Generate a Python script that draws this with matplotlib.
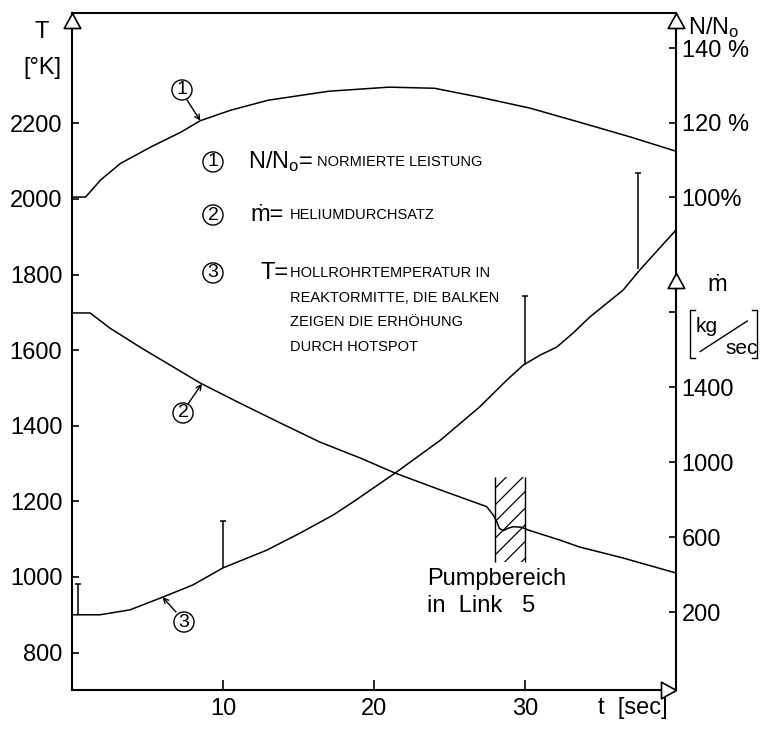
import numpy as np
import matplotlib
matplotlib.use("Agg")
import matplotlib.pyplot as plt

plt.rcParams["font.family"] = ["Liberation Sans", "DejaVu Sans"]
plt.rcParams["hatch.linewidth"] = 0.9

# ---- data -------------------------------------------------------------
# (1) normalised power N/No in %
t_power = [0, 0.9, 1.9, 3.2, 5.2, 7.2, 8.5, 10.5, 13.0, 17.0, 21.0, 24.0,
           27.0, 30.3, 33.6, 37.0, 40.0]
power = [100, 100, 104.6, 109.0, 113.4, 117.4, 120.5, 123.3, 126.0, 128.4,
         129.5, 129.2, 126.8, 123.9, 120.1, 116.1, 112.3]

# (2) helium mass flow in kg/sec
t_flow = [0, 1.2, 2.5, 4.5, 6.5, 8.5, 11.1, 13.8, 16.4, 19.1, 21.4, 24.4,
          27.46, 27.9, 28.13, 28.3, 28.56, 28.89, 29.23, 29.78, 30.22, 32.3,
          33.6, 36.5, 40.0]
flow = [1795, 1795, 1715, 1613, 1517, 1421, 1315, 1208, 1107, 1021, 941, 851,
        762, 717, 682, 646, 634, 647, 655, 652, 637, 584,
        547, 488, 408]

# (3) tube temperature at core mid-height in K
t_temp = [0, 1.85, 3.84, 6.03, 8.01, 10.0, 12.9, 15.1, 17.3, 18.6, 21.4, 24.4,
          27.0, 28.8, 29.9, 31.0, 32.1, 33.2, 34.3, 36.5, 37.6, 40.0]
temp = [900, 900, 913, 947, 979, 1024, 1071, 1116, 1164, 1198, 1275, 1362,
        1450, 1521, 1561, 1587, 1608, 1646, 1688, 1759, 1812, 1918]

# hot-spot increase bars
bar_t = [0.4, 10.0, 30.0, 37.5]
bar_low = [900, 1024, 1561, 1815]
bar_high = [982, 1148, 1743, 2069]

# pump region in link 5
pump_t = [28.0, 30.0]
pump_flow = [467, 920]

x_ticks = [10, 20, 30]
temp_ticks = [800, 1000, 1200, 1400, 1600, 1800, 2000, 2200]
power_ticks = [100, 120, 140]
power_labels = ["100%", "120 %", "140 %"]
flow_ticks = [200, 600, 1000, 1400, 1800]
flow_labels = ["200", "600", "1000", "1400", ""]

# ---- figure -----------------------------------------------------------
fig = plt.figure(figsize=(7.61, 7.29), dpi=100)
ax = fig.add_axes([72 / 761, 1 - 690 / 729, 604 / 761, 677 / 729])
axn = ax.twinx()
axm = ax.twinx()

ax.set_xlim(0, 40)
ax.set_ylim(701, 2492)
axn.set_ylim(-32.3, 149.4)
axm.set_ylim(-216, 3395)

for s in ax.spines.values():
    s.set_linewidth(1.5)
for a in (axn, axm):
    for s in a.spines.values():
        s.set_visible(False)
    a.patch.set_visible(False)

LBL = 17
ax.set_xticks(x_ticks)
ax.set_xticklabels([str(v) for v in x_ticks])
ax.tick_params(axis="x", direction="in", length=7, width=1.2, pad=6,
               labelsize=LBL, top=False)
ax.set_yticks(temp_ticks)
ax.tick_params(axis="y", direction="in", length=5, width=1.2, pad=7,
               labelsize=LBL, right=False)

axn.set_yticks(power_ticks)
axn.set_yticklabels(power_labels)
axn.tick_params(axis="y", direction="in", length=5, width=1.2, pad=4,
                labelsize=LBL, left=False)
axm.set_yticks(flow_ticks)
axm.set_yticklabels(flow_labels)
axm.tick_params(axis="y", direction="in", length=5, width=1.2, pad=4,
                labelsize=LBL, left=False)

# ---- curves -----------------------------------------------------------
lw = 1.1
axn.plot(t_power, power, color="black", lw=lw)
axm.plot(t_flow, flow, color="black", lw=lw)
ax.plot(t_temp, temp, color="black", lw=lw)

ax.vlines(bar_t, bar_low, bar_high, color="black", lw=1.1)
ax.plot(bar_t, bar_high, linestyle="none", marker="_", ms=5, mew=1.1,
        color="black")

axm.fill_between(pump_t, pump_flow[0], pump_flow[1], facecolor="none",
                 edgecolor="black", hatch="//", linewidth=0)
axm.vlines(pump_t, pump_flow[0], pump_flow[1], color="black", lw=1.0)

# ---- axis arrows ------------------------------------------------------
up = [(0, 0), (-0.55, -1), (0.55, -1), (0, 0)]
right = [(0, 0), (-1, 0.55), (-1, -0.55), (0, 0)]
arrow_kw = dict(ms=21.6, mfc="white", mec="black", mew=1.2, clip_on=False,
                linestyle="none", transform=ax.transAxes, zorder=10)
ax.plot([0], [1], marker=up, **arrow_kw)
ax.plot([1], [1], marker=up, **arrow_kw)
ax.plot([1], [0.616], marker=up, **arrow_kw)
ax.plot([1], [0], marker=right, **arrow_kw)

# ---- axis captions ----------------------------------------------------
tr = ax.transAxes
ax.text(-0.0497, 0.972, "T", transform=tr, ha="center", va="center",
        fontsize=LBL)
ax.text(-0.0497, 0.919, "[°K]", transform=tr, ha="center", va="center",
        fontsize=LBL)
ax.text(1.020, 0.979, r"$\mathregular{N/N_o}$", transform=tr, ha="left",
        va="center", fontsize=LBL)
ax.text(1.068, 0.598, "ṁ", transform=tr, ha="center", va="center",
        fontsize=LBL)
ax.text(1.051, 0.537, "kg", transform=tr, ha="center", va="center",
        fontsize=15)
ax.text(1.109, 0.505, "sec", transform=tr, ha="center", va="center",
        fontsize=15)
line_kw = dict(color="black", lw=1.0, transform=tr, clip_on=False)
ax.plot([1.040, 1.118], [0.500, 0.545], **line_kw)
ax.plot([1.0315, 1.0232, 1.0232, 1.0315], [0.5613, 0.5613, 0.4904, 0.4904],
        **line_kw)
ax.plot([1.1258, 1.1341, 1.1341, 1.1258], [0.5613, 0.5613, 0.4904, 0.4904],
        **line_kw)
ax.text(0.871, -0.0266, "t  [sec]", transform=tr, ha="left", va="center",
        fontsize=LBL)

# ---- key ---------------------------------------------------------------
circ = dict(boxstyle="circle,pad=0.08", fc="white", ec="black", lw=1.0)
KEY = 10.5


def circled(x, y, s):
    ax.text(x, y, s, transform=tr, ha="center", va="center", fontsize=14,
            bbox=circ, zorder=5)


circled(0.2334, 0.780, "1")
ax.text(0.2914, 0.780, r"$\mathregular{N/N_o}$=", transform=tr, ha="left",
        va="center", fontsize=LBL)
ax.text(0.4056, 0.780, "NORMIERTE LEISTUNG", transform=tr, ha="left",
        va="center", fontsize=KEY)

circled(0.2334, 0.7016, "2")
ax.text(0.2947, 0.7016, "ṁ=", transform=tr, ha="left", va="center",
        fontsize=LBL)
ax.text(0.3609, 0.7016, "HELIUMDURCHSATZ", transform=tr, ha="left",
        va="center", fontsize=KEY)

circled(0.2334, 0.6160, "3")
ax.text(0.3113, 0.6160, "T=", transform=tr, ha="left", va="center",
        fontsize=LBL)
ax.text(0.3609, 0.6160 + 0.010,
        "HOLLROHRTEMPERATUR IN\nREAKTORMITTE, DIE BALKEN\n"
        "ZEIGEN DIE ERHÖHUNG\nDURCH HOTSPOT",
        transform=tr, ha="left", va="top", fontsize=KEY, linespacing=1.95)

# ---- curve markers ----------------------------------------------------
arrow_props = dict(arrowstyle="->,head_length=0.35,head_width=0.18",
                   color="black", lw=1.0, shrinkA=0, shrinkB=0)

circled(0.1821, 0.8863, "1")
t1 = 8.5
axn.annotate("", xy=(t1, np.interp(t1, t_power, power)),
             xytext=(0.1904, 0.8715), textcoords="axes fraction",
             arrowprops=arrow_props)

circled(0.1838, 0.4092, "2")
t2 = 8.6
axm.annotate("", xy=(t2, np.interp(t2, t_flow, flow)),
             xytext=(0.192, 0.4225), textcoords="axes fraction",
             arrowprops=arrow_props)

circled(0.1854, 0.1004, "3")
t3 = 6.0
ax.annotate("", xy=(t3, np.interp(t3, t_temp, temp)),
            xytext=(0.1722, 0.1152), textcoords="axes fraction",
            arrowprops=arrow_props)

ax.text(0.5877, 0.1551, "Pumpbereich", transform=tr, ha="left",
        va="baseline", fontsize=LBL)
ax.text(0.5877, 0.1152, "in  Link   5", transform=tr, ha="left",
        va="baseline", fontsize=LBL)

fig.savefig("out.png", dpi=100)
